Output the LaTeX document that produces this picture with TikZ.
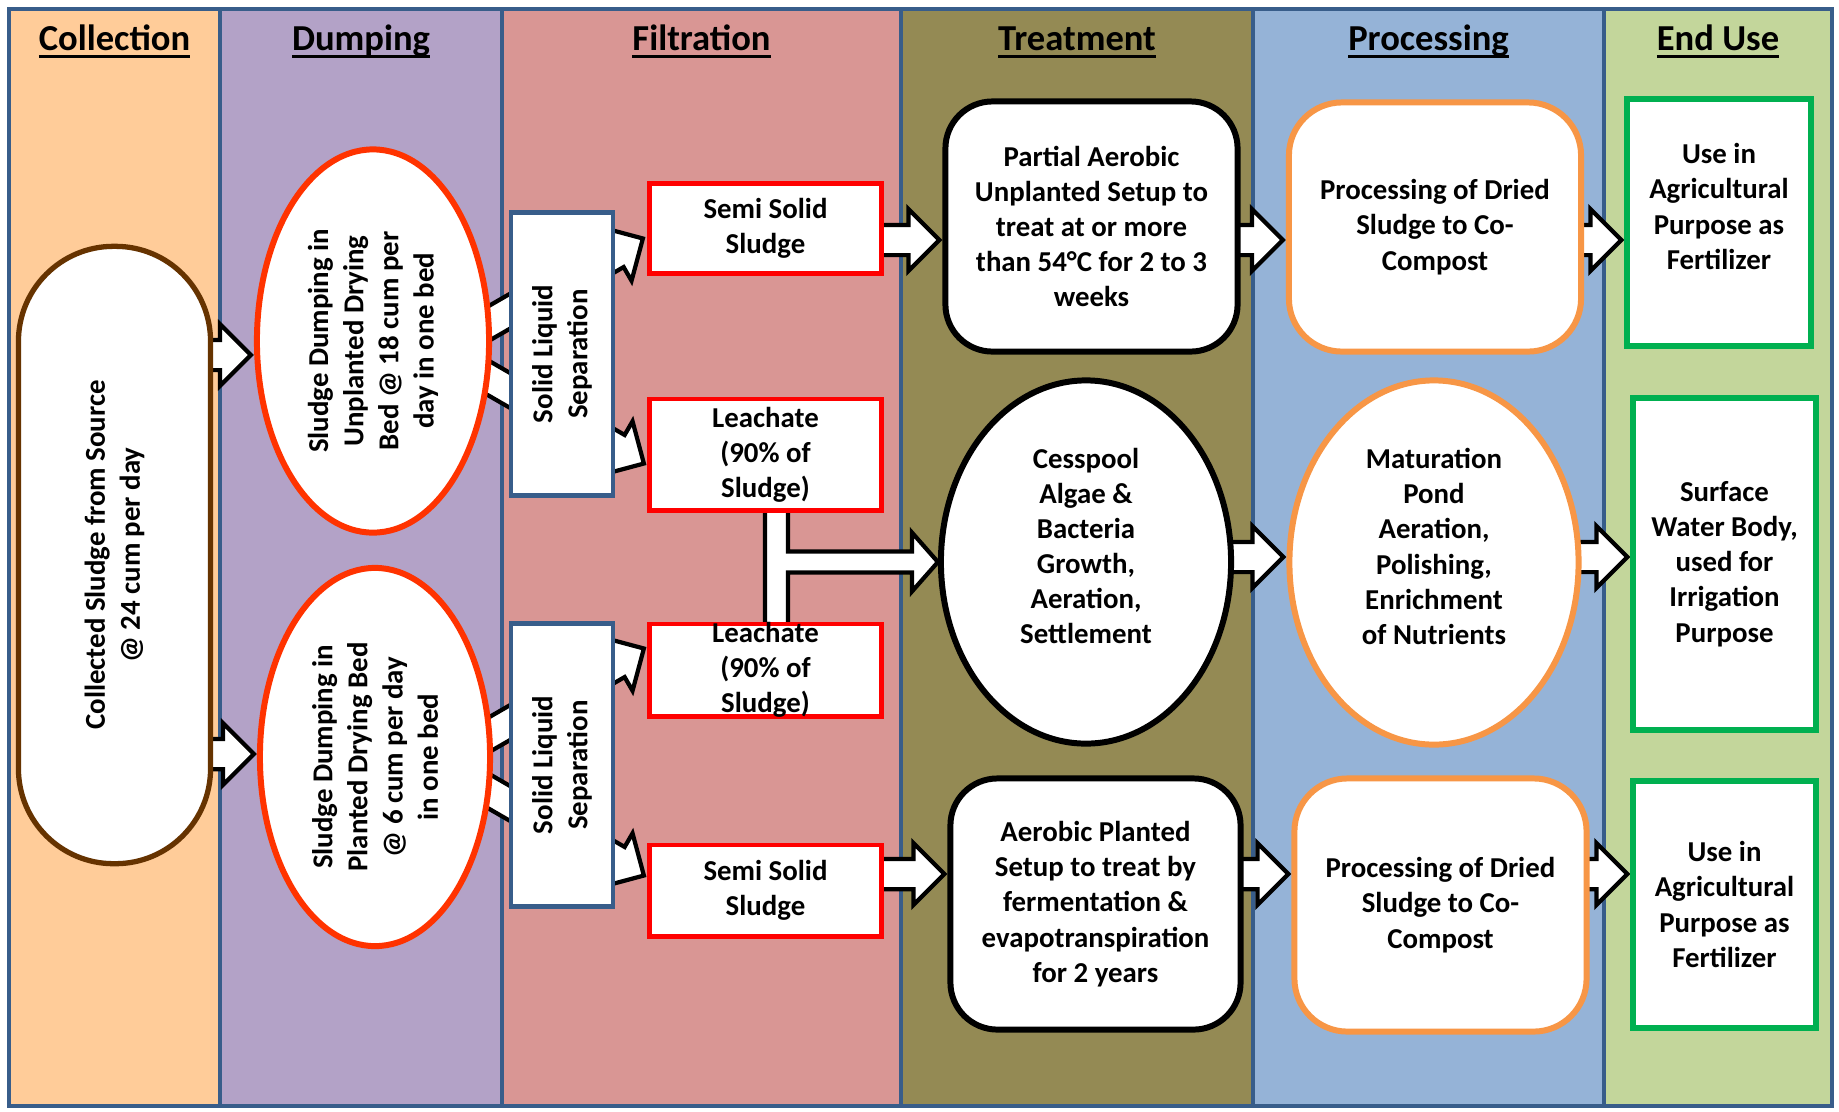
\documentclass[tikz,border=0pt]{standalone}
\usepackage{fontspec}
\setmainfont{Carlito}
\usetikzlibrary{shapes.geometric,shapes.arrows,calc}

\pgfdeclarelayer{lanes}
\pgfdeclarelayer{links}
\pgfsetlayers{lanes,links,main}

\definecolor{laneline}{HTML}{385D8A}
\definecolor{collectbg}{HTML}{FFCC99}
\definecolor{dumpbg}{HTML}{B3A2C7}
\definecolor{filterbg}{HTML}{D99694}
\definecolor{treatbg}{HTML}{948A54}
\definecolor{processbg}{HTML}{95B3D7}
\definecolor{usebg}{HTML}{C3D69B}
\definecolor{sludgebrown}{HTML}{663300}
\definecolor{bedred}{HTML}{FF3300}
\definecolor{compostorange}{HTML}{F79646}
\definecolor{usegreen}{HTML}{00B050}

% underlined lane title, the rule at a fixed depth
\newcommand\titleline[1]{\setbox0\hbox{#1}\rlap{\rule[-2.3pt]{\wd0}{0.8pt}}\box0}

\tikzset{
  lane/.style={draw=laneline, line width=1.2pt},
  head/.style={font=\fontsize{10.4}{12.5}\selectfont\bfseries, anchor=base},
  txt/.style={font=\fontsize{8.2}{10}\selectfont\bfseries, align=center, inner sep=0pt},
  sourcebox/.style={txt, draw=sludgebrown, line width=1.5pt, fill=white, rounded corners=0.95cm},
  bedoval/.style={txt, ellipse, draw=bedred, line width=1.7pt, fill=white},
  sepbox/.style={txt, draw=laneline, line width=1.2pt, fill=white, minimum width=2.83cm, minimum height=1.02cm},
  partbox/.style={txt, draw=red, line width=1.4pt, fill=white, minimum width=2.31cm},
  treatbox/.style={txt, draw=black, line width=1.7pt, fill=white, rounded corners=0.47cm, minimum width=2.92cm},
  pondoval/.style={txt, ellipse, line width=1.7pt, fill=white, minimum width=2.9cm, minimum height=3.63cm},
  compostbox/.style={txt, draw=compostorange, line width=1.7pt, fill=white, rounded corners=0.53cm, minimum width=2.92cm},
  usebox/.style={txt, draw=usegreen, line width=1.5pt, fill=white, minimum width=1.84cm},
  blockarrow/.style={single arrow, draw=black, fill=white, line width=1.2pt, inner sep=0pt,
    text height=3.7pt, text depth=3.7pt, single arrow head extend=4.5pt, single arrow tip angle=90},
  mergepipe/.style={draw=black, fill=white, line width=1.2pt, line join=miter}
}

% fat white arrow from #1 to #2, tip on #2
\newcommand\flowarrow[2]{%
  \path let \p1=($(#2)-(#1)$) in (#1) -- (#2)
    node[pos=1, sloped, anchor=tip, blockarrow, minimum height={veclen(\x1,\y1)}] {};}

\begin{document}
\begin{tikzpicture}[x=0.01cm, y=-0.01cm]
  \useasboundingbox (0,0) rectangle (1839,1111);

  \begin{pgfonlayer}{lanes}
    \fill[white] (0,0) rectangle (1839,1111);
    \foreach \a/\b/\c in {9/220/collectbg, 220/502/dumpbg, 502/901/filterbg,
                          901/1253/treatbg, 1253/1604/processbg, 1604/1832/usebg}
      \fill[\c] (\a,9) rectangle (\b,1106);
    \foreach \x in {220,502,901,1253,1604}
      \draw[lane] (\x,9) -- (\x,1106);
    \draw[lane] (9,9) rectangle (1832,1106);
  \end{pgfonlayer}

  % lane titles
  \node[head] (hCollect) at (114.5,50) {\titleline{Collection}};
  \node[head] (hDump) at (361,50) {\titleline{Dumping}};
  \node[head] (hFilter) at (701.5,50) {\titleline{Filtration}};
  \node[head] (hTreat) at (1077,50) {\titleline{Treatment}};
  \node[head] (hProcess) at (1428.5,50) {\titleline{Processing}};
  \node[head] (hUse) at (1718,50) {\titleline{End Use}};

  % collection and dumping (rotated: .north is left, .south is right)
  \node[sourcebox, rotate=90, minimum width=6.17cm, minimum height=1.92cm] (col) at (114.5,555)
    {Collected Sludge from Source\\@ 24 cum per day};
  \node[bedoval, rotate=90, minimum width=3.83cm, minimum height=2.32cm] (dumpA) at (373,341)
    {Sludge Dumping in\\Unplanted Drying\\Bed @ 18 cum per\\day in one bed};
  \node[bedoval, rotate=90, minimum width=3.78cm, minimum height=2.3cm] (dumpB) at (375,757)
    {Sludge Dumping in\\Planted Drying Bed\\@ 6 cum per day\\in one bed};

  % filtration
  \node[sepbox, rotate=90] (slsA) at (562,354) {Solid Liquid\\Separation};
  \node[sepbox, rotate=90] (slsB) at (562,765) {Solid Liquid\\Separation};
  \node[partbox, minimum height=0.9cm] (semiA) at (765.5,228.5) {Semi Solid\\Sludge};
  \node[partbox, minimum height=1.11cm] (leachA) at (765.5,454.5) {Leachate\\(90\% of\\Sludge)};
  \node[partbox, minimum height=0.92cm, inner ysep=-1.1pt] (leachB) at (765.5,670) {Leachate\\(90\% of\\Sludge)};
  \node[partbox, minimum height=0.91cm] (semiB) at (765.5,890.5) {Semi Solid\\Sludge};

  % treatment
  \node[treatbox, minimum height=2.5cm] (treatA) at (1091.5,226.5)
    {Partial Aerobic\\Unplanted Setup to\\treat at or more\\than 54°C for 2 to 3\\weeks};
  \node[pondoval, draw=black] (cess) at (1086,562) {};
  \node[txt] (cessText) at ($(cess.center)+(0,-16)$)
    {Cesspool\\Algae \&\\Bacteria\\Growth,\\Aeration,\\Settlement};
  \node[treatbox, minimum width=2.9cm, minimum height=2.51cm] (treatB) at (1095.5,904)
    {Aerobic Planted\\Setup to treat by\\fermentation \&\\evapotranspiration\\for 2 years};

  % processing
  \node[compostbox, minimum height=2.49cm] (procA) at (1435,227)
    {Processing of Dried\\Sludge to Co-\\Compost};
  \node[pondoval, draw=compostorange, minimum width=2.89cm, minimum height=3.64cm] (matur) at (1434,562.5) {};
  \node[txt] (maturText) at ($(matur.center)+(0,-16)$)
    {Maturation\\Pond\\Aeration,\\Polishing,\\Enrichment\\of Nutrients};
  \node[compostbox, minimum height=2.53cm] (procB) at (1440.5,905)
    {Processing of Dried\\Sludge to Co-\\Compost};

  % end use
  \node[usebox, minimum height=2.47cm] (useA) at (1719,222.5) {};
  \node[txt] (useAText) at ($(useA.center)+(0,-16)$)
    {Use in\\Agricultural\\Purpose as\\Fertilizer};
  \node[usebox, minimum width=1.83cm, minimum height=3.32cm] (useB) at (1724.5,564)
    {Surface\\Water Body,\\used for\\Irrigation\\Purpose};
  \node[usebox, minimum width=1.83cm, minimum height=2.47cm] (useC) at (1724.5,904.5)
    {Use in\\Agricultural\\Purpose as\\Fertilizer};

  \begin{pgfonlayer}{links}
    % collection -> beds
    \coordinate (inA) at ($(dumpA.north)+(0,14)$);
    \coordinate (outA) at ($(col.south |- inA)+(-12,0)$);
    \coordinate (inB) at ($(dumpB.north)+(0,-3)$);
    \coordinate (outB) at ($(col.south |- inB)+(-12,0)$);
    \flowarrow{outA}{inA}
    \flowarrow{outB}{inB}
    % beds -> separation (mostly hidden)
    \coordinate (sepA1) at ($(slsA.north)+(50,-71)$);
    \coordinate (bedA1) at ($(sepA1)+(-104,60)$);
    \coordinate (sepA2) at ($(slsA.north)+(50,64.6)$);
    \coordinate (bedA2) at ($(sepA2)+(-104,-60)$);
    \coordinate (sepB1) at ($(slsB.north)+(50,-70.6)$);
    \coordinate (bedB1) at ($(sepB1)+(-104,60)$);
    \coordinate (sepB2) at ($(slsB.north)+(50,66.6)$);
    \coordinate (bedB2) at ($(sepB2)+(-104,-60)$);
    \flowarrow{bedA1}{sepA1}
    \flowarrow{bedA2}{sepA2}
    \flowarrow{bedB1}{sepB1}
    \flowarrow{bedB2}{sepB2}
    % separation -> solid / liquid parts
    \coordinate (semiAin) at ($(semiA.west)+(-2,8.5)$);
    \coordinate (semiAout) at ($(semiAin)+(-78,45)$);
    \coordinate (leachAin) at ($(leachA.west)+(-1,10.5)$);
    \coordinate (leachAout) at ($(leachAin)+(-78,-45)$);
    \coordinate (leachBin) at ($(leachB.west)+(-1,-23)$);
    \coordinate (leachBout) at ($(leachBin)+(-78,45)$);
    \coordinate (semiBin) at ($(semiB.west)+(-1,-13.5)$);
    \coordinate (semiBout) at ($(semiBin)+(-78,-45)$);
    \flowarrow{semiAout}{semiAin}
    \flowarrow{leachAout}{leachAin}
    \flowarrow{leachBout}{leachBin}
    \flowarrow{semiBout}{semiBin}
    % both leachates join into the cesspool
    \draw[mergepipe] ($(leachA.south)+(-0.5,-12)$) -- ++(0,134) -- ++(23,0)
      |- ($(cess.west)+(-26,10.5)$) -- ++(0,19) -- (cess.west) -- ++(-26,-29.5)
      -- ++(0,19) -| ($(leachA.south)+(22.5,-12)$) -- cycle;
    % left to right along the three rows
    \foreach \src/\dst/\dy in {semiA/treatA/13.5, treatA/procA/13, procA/useA/17.5,
                               cess/matur/-5.5, matur/useB/-7,
                               semiB/treatB/-30, treatB/procB/-31, procB/useC/-30.5} {
      \coordinate (\dst in) at ($(\dst.west)+(0,\dy)$);
      \coordinate (\src out) at ($(\src.east |- \dst in)+(-12,0)$);
      \flowarrow{\src out}{\dst in}
    }
  \end{pgfonlayer}
\end{tikzpicture}
\end{document}
